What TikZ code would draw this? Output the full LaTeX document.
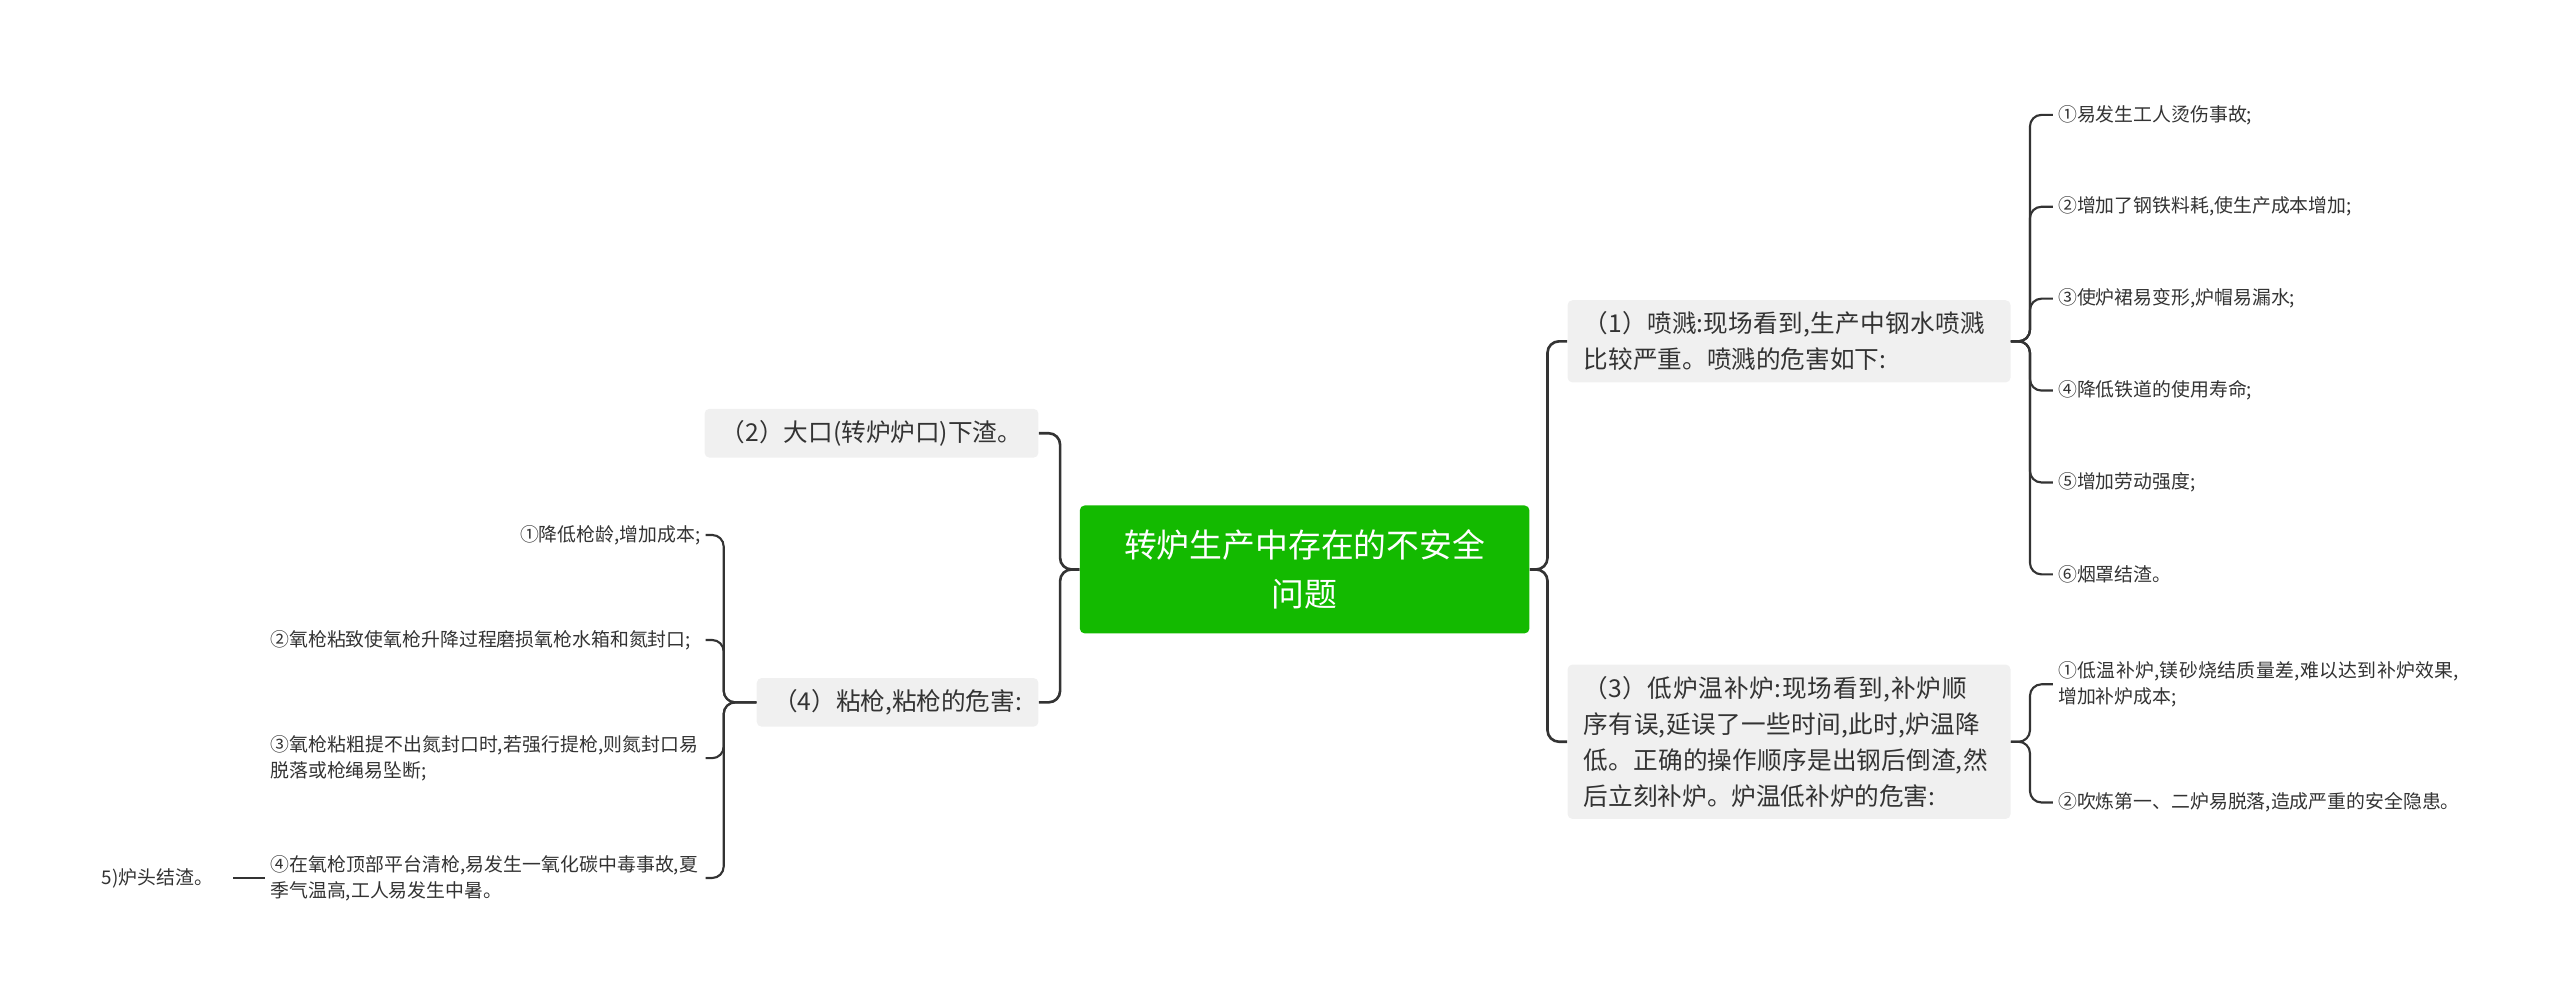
\documentclass[tikz,border=0pt]{standalone}
\usepackage{fontspec}
\setmainfont{Noto Sans CJK SC}
\XeTeXlinebreaklocale "zh"
\XeTeXlinebreakskip=0pt plus 1pt
\begin{document}
\begin{tikzpicture}[x=1pt,y=-1pt,
  conn/.style={draw=black!80,line width=1.6pt,rounded corners=7pt},
  sub/.style={fill=gray!12,rounded corners=3pt,font=\fontsize{15}{22}\selectfont,text=black!80,inner xsep=10pt,inner ysep=7pt,align=left},
  leaf/.style={font=\fontsize{11.5}{16}\selectfont,text=black!80,inner sep=3pt,align=left}]
\useasboundingbox (0,0) rectangle (1560,607);
\node[fill=green!70!black!90!lime,rounded corners=3pt,minimum width=274pt,minimum height=78pt,align=center,text=white,font=\fontsize{20}{30}\selectfont] (c) at (795,347) {转炉生产中存在的不安全\\问题};
\node[sub,text width=250pt,anchor=west] (n1) at (955,208) {（1）喷溅:现场看到,生产中钢水喷溅比较严重。喷溅的危害如下:};
\node[sub,text width=250pt,anchor=west] (n3) at (955,452) {（3）低炉温补炉:现场看到,补炉顺序有误,延误了一些时间,此时,炉温降低。正确的操作顺序是出钢后倒渣,然后立刻补炉。炉温低补炉的危害:};
\node[sub,anchor=east] (n2) at (633,264) {（2）大口(转炉炉口)下渣。};
\node[sub,anchor=east] (n4) at (633,428) {（4）粘枪,粘枪的危害:};
\draw[conn] (c.east) -- (943,347) |- (n1.west);
\draw[conn] (c.east) -- (943,347) |- (n3.west);
\draw[conn] (c.west) -- (646,347) |- (n2.east);
\draw[conn] (c.west) -- (646,347) |- (n4.east);
\foreach \i/\y/\t in {1/70/{①易发生工人烫伤事故;},2/126/{②增加了钢铁料耗,使生产成本增加;},3/182/{③使炉裙易变形,炉帽易漏水;},4/238/{④降低铁道的使用寿命;},5/294/{⑤增加劳动强度;},6/350/{⑥烟罩结渣。}}{
  \node[leaf,anchor=west] (a\i) at (1251,\y) {\t};
  \draw[conn,line width=1.3pt] (n1.east) -- (1237,208) |- (a\i.west);
}
\node[leaf,anchor=west,text width=250pt] (b1) at (1251,417) {①低温补炉,镁砂烧结质量差,难以达到补炉效果,增加补炉成本;};
\node[leaf,anchor=west,text width=250pt] (b2) at (1251,489) {②吹炼第一、二炉易脱落,造成严重的安全隐患。};
\draw[conn,line width=1.3pt] (n3.east) -- (1237,452) |- (b1.west);
\draw[conn,line width=1.3pt] (n3.east) -- (1237,452) |- (b2.west);
\node[leaf,anchor=east] (d1) at (430,326) {①降低枪龄,增加成本;};
\node[leaf,anchor=east,text width=262pt] (d2) at (430,390) {②氧枪粘致使氧枪升降过程磨损氧枪水箱和氮封口;};
\node[leaf,anchor=east,text width=262pt] (d3) at (430,462) {③氧枪粘粗提不出氮封口时,若强行提枪,则氮封口易脱落或枪绳易坠断;};
\node[leaf,anchor=east,text width=262pt] (d4) at (430,535) {④在氧枪顶部平台清枪,易发生一氧化碳中毒事故,夏季气温高,工人易发生中暑。};
\foreach \i in {1,...,4}{\draw[conn,line width=1.3pt] (n4.west) -- (441,428) |- (d\i.east);}
\node[leaf,anchor=east] (e) at (133,535) {5)炉头结渣。};
\draw[line width=1.3pt,black!80] (e.east) ++(9,0) -- (d4.west);
\end{tikzpicture}
\end{document}
